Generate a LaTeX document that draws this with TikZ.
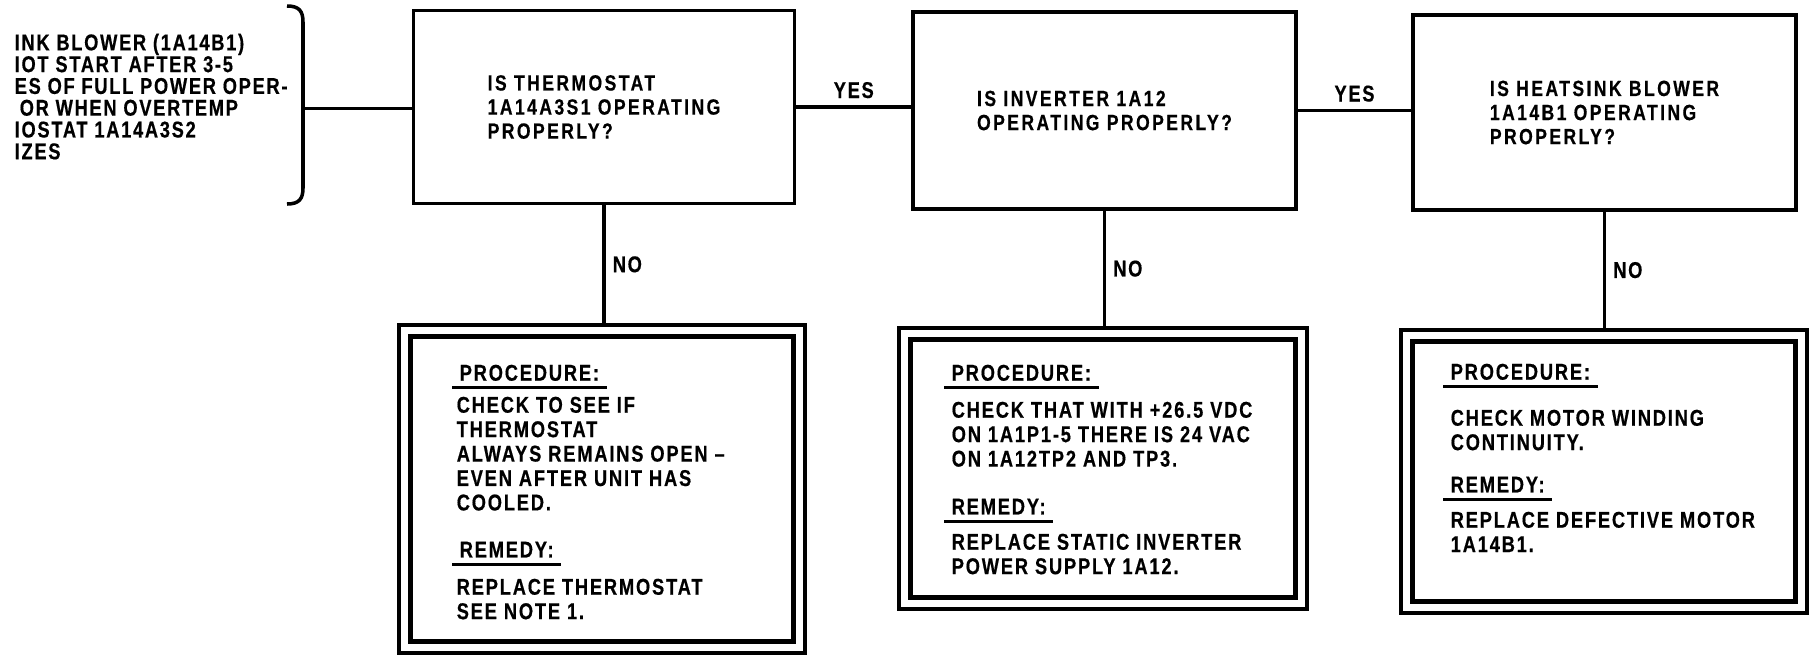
\documentclass[tikz,border=0pt]{standalone}
\usepackage{fontspec}
\usepackage{tikz}
\newfontfamily\askfont{Liberation Sans Bold}[FakeStretch=0.8,LetterSpace=11,FakeBold=0.5]
\newfontfamily\stepfont{Liberation Sans Bold}[FakeStretch=0.8,LetterSpace=8,FakeBold=0.5]
\newfontfamily\sidefont{Liberation Sans Bold}[FakeStretch=0.8,LetterSpace=7.5,FakeBold=0.5]

\begin{document}
\begin{tikzpicture}[x=0.02cm, y=-0.02cm, line width=2pt,
    question/.style={draw, align=left, font=\askfont\fontsize{12.5pt}{13.7pt}\selectfont},
    frame/.style={draw, line width=1.8pt},
    heading/.style={anchor=north west, inner xsep=0.12cm, inner ysep=0.1cm, font=\stepfont\fontsize{13pt}{13.9pt}\selectfont},
    body/.style={anchor=north west, inner sep=0pt, align=left, font=\stepfont\fontsize{13pt}{13.9pt}\selectfont},
    answer/.style={inner sep=4pt, font=\sidefont\fontsize{13pt}{12.4pt}\selectfont}]
    \useasboundingbox (0,0) rectangle (1809,654);

    % condition at left, cut off by the page edge
    \node[anchor=north west, inner sep=0pt, align=left, font=\sidefont\fontsize{13pt}{12.4pt}\selectfont] (cond) at (13,32)
        {INK BLOWER (1A14B1)\\IOT START AFTER 3-5\\ES OF FULL POWER OPER-\\\hspace*{0.1cm}OR WHEN OVERTEMP\\IOSTAT 1A14A3S2\\IZES};
    \draw (287,6) .. controls (299,6) and (303,11) .. (303,22) -- (303,188) .. controls (303,199) and (299,204) .. (287,204);
    \coordinate (brk) at (303,108.5);

    % questions
    \node[question, minimum width=7.62cm, minimum height=3.86cm] (q1) at (604,107)
        {IS THERMOSTAT\\1A14A3S1 OPERATING\\PROPERLY?};
    \node[question, minimum width=7.66cm, minimum height=3.94cm] (q2) at (1104.5,110.5)
        {IS INVERTER 1A12\\OPERATING PROPERLY?};
    \node[question, minimum width=7.66cm, minimum height=3.90cm] (q3) at (1604.5,112.5)
        {IS HEATSINK BLOWER\\1A14B1 OPERATING\\PROPERLY?};

    % procedure boxes
    \node[frame, minimum width=8.12cm, minimum height=6.56cm] (p1) at (602,489) {};
    \node[frame, minimum width=8.16cm, minimum height=5.62cm] (p2) at (1103,468.5) {};
    \node[frame, minimum width=8.12cm, minimum height=5.66cm] (p3) at (1604,471.5) {};

    \draw (brk) -- (brk -| q1.west);
    \draw (q1.east) -- (q1.east -| q2.west) node[midway, above, answer] (yes1) {YES};
    \draw (q2.east) -- (q2.east -| q3.west) node[midway, above, answer] (yes2) {YES};
    \foreach \i in {1,2,3}
    {
        \draw (q\i.south) -- (q\i.south |- p\i.north) node[midway, right, answer] (no\i) {NO};
        \draw[line width=2.4pt] ([shift={(13,13)}]p\i.north west) rectangle ([shift={(-13,-13)}]p\i.south east);
    }

    \node[heading] (p1h1) at (452,358) {PROCEDURE:};
    \node[body] (p1b1) at (455,395) {CHECK TO SEE IF\\THERMOSTAT\\ALWAYS REMAINS OPEN –\\EVEN AFTER UNIT HAS\\COOLED.};
    \node[heading] (p1h2) at (452,535) {REMEDY:};
    \node[body] (p1b2) at (455,577) {REPLACE THERMOSTAT\\SEE NOTE 1.};

    \node[heading] (p2h1) at (944,358) {PROCEDURE:};
    \node[body] (p2b1) at (950,400) {CHECK THAT WITH +26.5 VDC\\ON 1A1P1-5 THERE IS 24 VAC\\ON 1A12TP2 AND TP3.};
    \node[heading] (p2h2) at (944,492) {REMEDY:};
    \node[body] (p2b2) at (950,532) {REPLACE STATIC INVERTER\\POWER SUPPLY 1A12.};

    \node[heading] (p3h1) at (1443,357) {PROCEDURE:};
    \node[body] (p3b1) at (1449,408) {CHECK MOTOR WINDING\\CONTINUITY.};
    \node[heading] (p3h2) at (1443,470) {REMEDY:};
    \node[body] (p3b2) at (1449,510) {REPLACE DEFECTIVE MOTOR\\1A14B1.};

    \foreach \h in {p1h1,p1h2,p2h1,p2h2,p3h1,p3h2}
        \draw[line width=1.6pt] (\h.south west) -- (\h.south east);
\end{tikzpicture}
\end{document}
